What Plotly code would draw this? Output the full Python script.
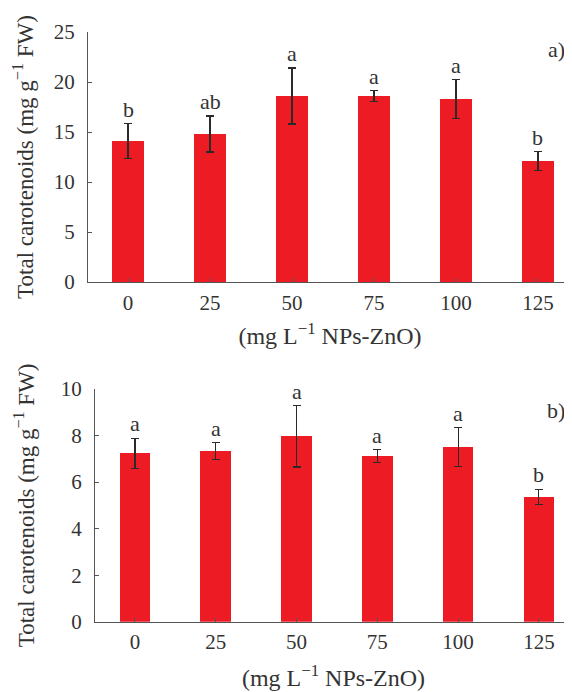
import plotly.graph_objects as go

categories = ["0", "25", "50", "75", "100", "125"]

# panel a
vals_a = [14.1, 14.8, 18.6, 18.6, 18.3, 12.1]
err_a = [1.75, 1.8, 2.8, 0.55, 1.93, 0.93]
letters_a = ["b", "ab", "a", "a", "a", "b"]

# panel b
vals_b = [7.24, 7.33, 7.97, 7.12, 7.5, 5.36]
err_b = [0.65, 0.37, 1.32, 0.27, 0.84, 0.33]
letters_b = ["a", "a", "a", "a", "a", "b"]

FONT = "Liberation Serif"
TXT = "#333333"
RED = "#ED1C24"
OFF = 8  # page body margin
W, H = 572 - OFF, 692 - OFF
pos = list(range(len(categories)))

fig = go.Figure()

def add_panel(vals, errs, xa, ya):
    fig.add_trace(go.Bar(
        x=pos, y=vals, width=0.38, marker=dict(color=RED, line=dict(width=0)),
        error_y=dict(type="data", array=errs, visible=True, color="#2a2a2a", thickness=1.1, width=4),
        xaxis=xa, yaxis=ya, showlegend=False))

add_panel(vals_a, err_a, "x", "y")
add_panel(vals_b, err_b, "x2", "y2")

axis_common = dict(showline=True, linecolor="#555555", linewidth=1.2, ticks="inside",
                   ticklen=4, tickcolor="#555555", showgrid=False, zeroline=False,
                   automargin=False, tickfont=dict(family=FONT, size=21, color=TXT))

ytitle = "Total carotenoids (mg g<sup>\u22121</sup> FW)"
xtitle = "(mg L<sup>\u22121</sup> NPs-ZnO)"
lfont = dict(family=FONT, size=22, color=TXT)
ytfont = dict(family=FONT, size=23, color=TXT)
xtfont = dict(family=FONT, size=24, color=TXT)

def px_x(v):
    return (v - OFF) / W

def px_y(v):
    return 1 - (v - OFF) / H

fig.update_layout(
    width=W, height=H, margin=dict(l=0, r=0, t=0, b=0, autoexpand=False),
    paper_bgcolor="white", plot_bgcolor="white", bargap=0,
    xaxis=dict(domain=[px_x(88), 1], anchor="y", range=[-0.488, 5.415],
               tickmode="array", tickvals=pos, ticktext=categories, ticklabelstandoff=2,
               title=dict(text=xtitle, font=xtfont, standoff=12), **axis_common),
    yaxis=dict(domain=[px_y(282), px_y(32)], anchor="x", range=[0, 25], dtick=5,
               ticklabelstandoff=8,
               title=dict(text=ytitle, font=ytfont, standoff=13), **axis_common),
    xaxis2=dict(domain=[px_x(95), 1], anchor="y2", range=[-0.495, 5.41],
                tickmode="array", tickvals=pos, ticktext=categories, ticklabelstandoff=1,
                title=dict(text=xtitle, font=xtfont, standoff=16), **axis_common),
    yaxis2=dict(domain=[px_y(621.7), px_y(389)], anchor="x2", range=[0, 10], dtick=2,
                ticklabelstandoff=8,
                title=dict(text=ytitle, font=ytfont, standoff=19), **axis_common),
)

ann = []
for p, v, e, l in zip(pos, vals_a, err_a, letters_a):
    ann.append(dict(x=p, y=v + e, xref="x", yref="y", text=l, showarrow=False,
                    yanchor="bottom", yshift=0, font=lfont))
for p, v, e, l in zip(pos, vals_b, err_b, letters_b):
    ann.append(dict(x=p, y=v + e, xref="x2", yref="y2", text=l, showarrow=False,
                    yanchor="bottom", yshift=0, font=lfont))
ann += [
    dict(x=px_x(556), y=px_y(49), xref="paper", yref="paper", text="a)",
         xanchor="center", yanchor="middle", showarrow=False, font=lfont),
    dict(x=px_x(556), y=px_y(410), xref="paper", yref="paper", text="b)",
         xanchor="center", yanchor="middle", showarrow=False, font=lfont),
]
fig.update_layout(annotations=ann)

fig.write_html("out.html")
